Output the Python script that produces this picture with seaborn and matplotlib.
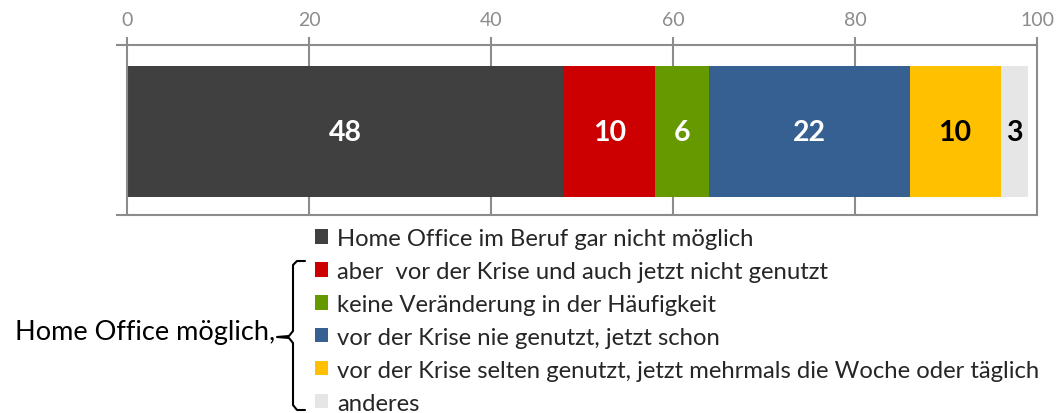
import matplotlib
matplotlib.use("Agg")
import matplotlib.pyplot as plt
import seaborn as sns
import pandas as pd
from matplotlib.patches import Patch
from matplotlib.lines import Line2D

# data
categories = [
    "Home Office im Beruf gar nicht möglich",
    "aber  vor der Krise und auch jetzt nicht genutzt",
    "keine Veränderung in der Häufigkeit",
    "vor der Krise nie genutzt, jetzt schon",
    "vor der Krise selten genutzt, jetzt mehrmals die Woche oder täglich",
    "anderes",
]
values = [48, 10, 6, 22, 10, 3]
colors = ["#404040", "#CC0000", "#669900", "#366092", "#FFC000", "#E7E6E6"]
label_colors = ["white", "white", "white", "white", "black", "black"]
ticks = [0, 20, 40, 60, 80, 100]
group_label = "Home Office möglich,"

W, H = 1059, 414
GRAY = "#8c8c8c"

sns.set_theme(style="white")
plt.rcParams["font.family"] = ["Lato", "DejaVu Sans"]


def fx(px):
    return px / W


def fy(py):
    return 1 - py / H


fig = plt.figure(figsize=(W / 100, H / 100), dpi=100)
ax = fig.add_axes([fx(117), fy(216), fx(920), 170 / H])

df = pd.DataFrame({"cat": categories, "value": values, "color": colors})
df["cum"] = df["value"].cumsum()
df["mid"] = df["cum"] - df["value"] / 2

# stacked bar: draw cumulative bars from longest to shortest
for _, row in df[::-1].iterrows():
    sns.barplot(x=[row["cum"]], y=["Home Office"], color=row["color"],
                saturation=1, width=0.77, linewidth=0, ax=ax, orient="h", zorder=3)

for i, row in df.iterrows():
    ax.text(row["mid"], 0, f"{row['value']:g}", ha="center", va="center",
            fontsize=20.5, fontweight="bold", color=label_colors[i], zorder=4)

ax.set_xlim(-1.1, 100)
ax.set_ylim(0.49, -0.51)
ax.set_xticks(ticks)
ax.set_xticklabels([str(t) for t in ticks])
ax.xaxis.tick_top()
ax.tick_params(axis="x", direction="out", length=6, width=1.5, color=GRAY,
               labelcolor=GRAY, labelsize=14, pad=6)
ax.set_yticks([])
ax.set_ylabel("")
ax.set_xlabel("")
for t in ticks[1:-1]:
    ax.axvline(t, color=GRAY, lw=1.5, zorder=1)
ax.axvline(0, color=GRAY, lw=1.5, zorder=5)
ax.spines["left"].set_visible(False)
for s in ["top", "bottom", "right"]:
    ax.spines[s].set_color(GRAY)
    ax.spines[s].set_linewidth(1.5)

# legend
handles = [Patch(facecolor=c, edgecolor="none", label=l) for c, l in zip(colors, categories)]
fig.legend(handles=handles, loc="upper left", bbox_to_anchor=(fx(315), fy(229)),
           frameon=False, fontsize=17.2, handlelength=0.54, handleheight=0.54,
           handletextpad=0.38, labelspacing=0.5, borderpad=0, borderaxespad=0)

# brace
bx = [305, 297, 293, 293, 289, 277, 289, 293, 293, 297, 305]
by = [262, 262, 266, 332, 337, 338, 339, 344, 406, 411, 411]
fig.add_artist(Line2D([fx(v) for v in bx], [fy(v) for v in by], color="black",
                      lw=1.5, transform=fig.transFigure))
fig.text(fx(15), fy(333), group_label, ha="left", va="center", fontsize=19.5, color="black")

fig.savefig("out.png", dpi=100)
